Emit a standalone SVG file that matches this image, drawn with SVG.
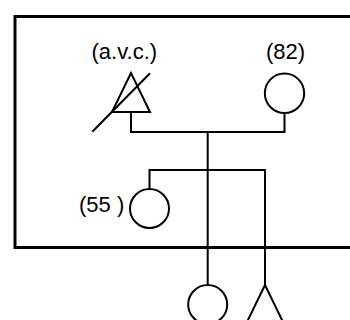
<svg xmlns="http://www.w3.org/2000/svg" width="350" height="320" viewBox="0 0 350 320">
<style>
.s{fill:none;stroke:#000;stroke-width:2}
.t{font-family:"Liberation Sans",Arial,sans-serif;font-size:22px;fill:#000}
</style>
<rect width="350" height="320" fill="#fff"/>
<rect id="household" x="15" y="16.5" width="360" height="231" fill="none" stroke="#000" stroke-width="3"/>
<g id="connectors" class="s">
<polyline points="131,112 131,132 284.5,132 284.5,113"/>
<line x1="207.7" y1="132" x2="207.7" y2="285"/>
<polyline points="149.5,189 149.5,170 265,170 265,285"/>
</g>
<g id="father">
<polygon class="s" points="131,73 112,112 150,112"/>
<line class="s" x1="92.3" y1="131.7" x2="150" y2="73.3"/>
<text class="t" x="124.3" y="59" text-anchor="middle">(a.v.c.)</text>
</g>
<g id="mother">
<circle class="s" cx="284.5" cy="93.3" r="19.7"/>
<text class="t" x="285.5" y="59" text-anchor="middle">(82)</text>
</g>
<g id="daughter55">
<circle class="s" cx="149.5" cy="208.5" r="19.5"/>
<text class="t" x="79" y="211.5">(55 )</text>
</g>
<g id="child_circle">
<circle class="s" cx="207.7" cy="304.5" r="19.5"/>
</g>
<g id="child_triangle">
<polygon class="s" points="265,285 246,324 284,324"/>
</g>
</svg>
